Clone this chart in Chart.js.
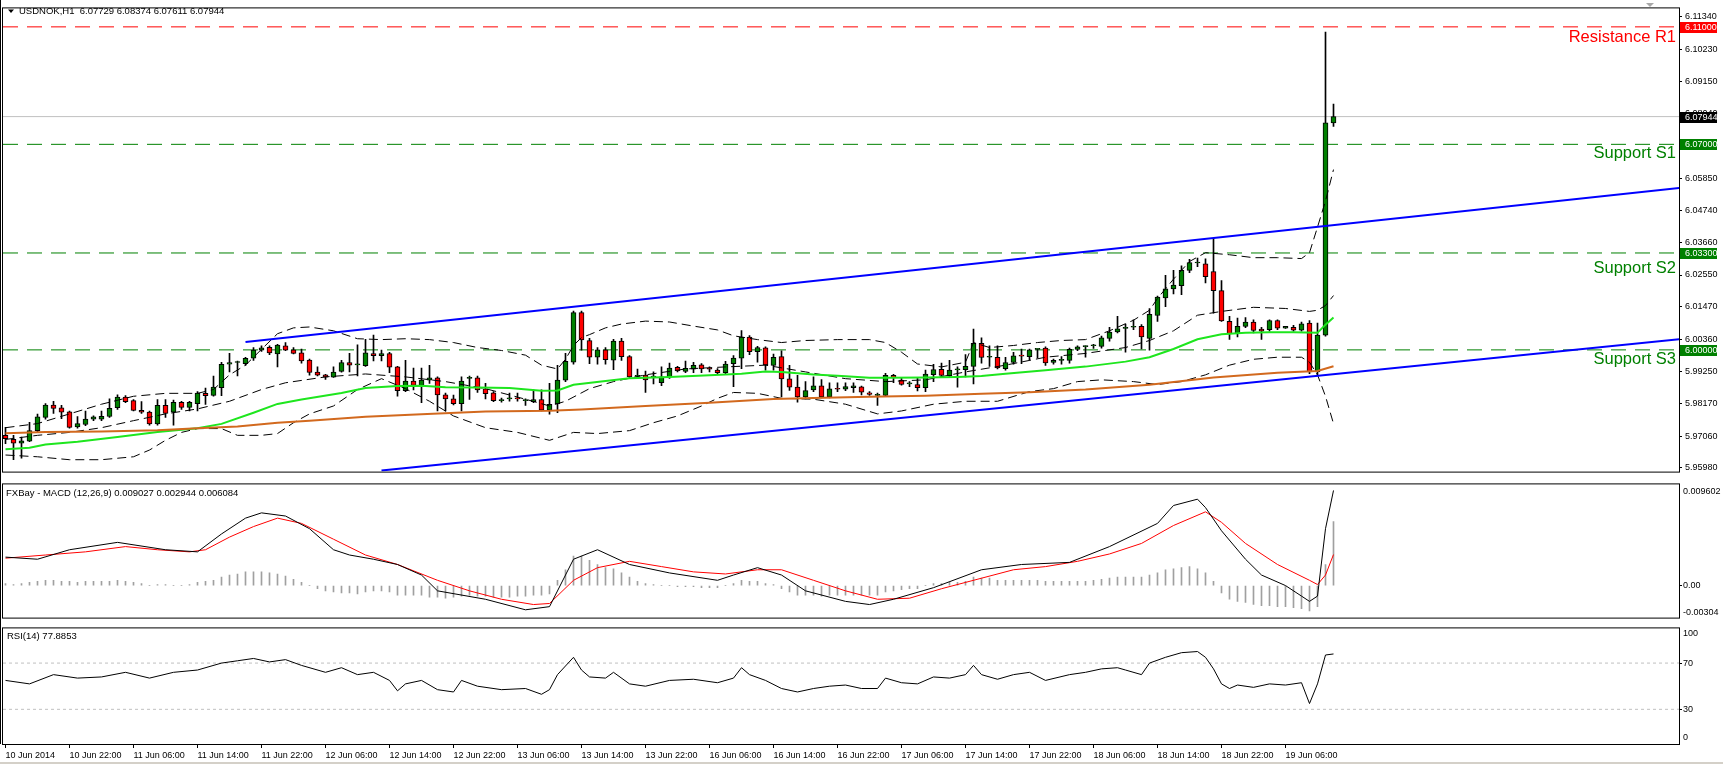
<!DOCTYPE html>
<html>
<head>
<meta charset="utf-8">
<script src="https://cdn.jsdelivr.net/npm/chart.js@4.4.1/dist/chart.umd.min.js"></script>
<style>
  html, body { margin: 0; padding: 0; background: #fff; }
  body { width: 1723px; height: 764px; position: relative; overflow: hidden; }
  canvas { position: absolute; left: 0; }
  #main { top: 0; }
  #macd { top: 478px; }
  #rsi { top: 622px; }
  #edge { position: absolute; left: 0; top: 762px; width: 1723px; height: 2px; background: #d4d0c8; }
</style>
</head>
<body>
<canvas id="main" width="1723" height="480"></canvas>
<canvas id="macd" width="1723" height="146"></canvas>
<canvas id="rsi" width="1723" height="142"></canvas>
<div id="edge"></div>
<script>
// USDNOK H1 candles, 10 Jun 14:00 .. 19 Jun 12:00
const open = [5.9709,5.9695,5.9682,5.9689,5.9725,5.9770,5.9812,5.9803,5.9789,5.9738,5.9746,5.9764,5.9764,5.9773,5.9803,5.9839,5.9827,5.9794,5.9788,5.9748,
  5.9811,5.9788,5.9821,5.9804,5.9817,5.9852,5.9845,5.9871,5.9951,5.9957,5.9953,5.9972,5.9999,6.0009,5.9986,6.0014,6.0000,5.9990,5.9965,5.9924,
  5.9915,5.9907,5.9927,5.9957,5.9949,5.9946,5.9987,5.9980,5.9987,5.9942,5.9861,5.9894,5.9879,5.9897,5.9905,5.9847,5.9833,5.9817,5.9903,5.9905,
  5.9867,5.9854,5.9827,5.9833,5.9834,5.9827,5.9824,5.9831,5.9795,5.9816,5.9897,5.9958,6.0127,6.0032,5.9975,6.0000,5.9965,6.0030,5.9977,5.9910,
  5.9914,5.9907,5.9888,5.9908,5.9941,5.9927,5.9934,5.9949,5.9935,5.9931,5.9922,5.9953,5.9972,6.0044,5.9994,6.0007,5.9947,5.9977,5.9901,5.9873,
  5.9840,5.9864,5.9878,5.9840,5.9867,5.9866,5.9871,5.9874,5.9854,5.9845,5.9845,5.9913,5.9897,5.9884,5.9882,5.9871,5.9916,5.9934,5.9912,5.9932,
  5.9933,5.9944,6.0022,5.9975,5.9975,5.9936,5.9957,5.9980,5.9977,6.0002,6.0006,5.9957,5.9964,5.9964,6.0002,6.0011,6.0014,6.0012,6.0039,6.0061,
  6.0073,6.0077,6.0080,6.0039,6.0117,6.0177,6.0208,6.0219,6.0271,6.0296,6.0293,6.0267,6.0202,6.0097,6.0055,6.0080,6.0095,6.0071,6.0069,6.0100,
  6.0074,6.0077,6.0067,6.0091,5.9925,6.0050,6.07729];
const high = [5.9736,5.9709,5.9703,5.9753,5.9781,5.9817,5.9825,5.9811,5.9792,5.9773,5.9792,5.9775,5.9792,5.9833,5.9847,5.9844,5.9831,5.9824,5.9792,5.9831,
  5.9831,5.9829,5.9825,5.9825,5.9858,5.9870,5.9911,5.9958,5.9988,5.9962,5.9975,6.0008,6.0014,6.0014,6.0019,6.0025,6.0008,6.0003,5.9969,5.9942,
  5.9917,5.9942,5.9964,5.9988,6.0017,6.0036,6.0050,5.9999,5.9992,5.9944,5.9964,5.9938,5.9938,5.9947,5.9908,5.9853,5.9846,5.9908,5.9911,5.9911,
  5.9886,5.9858,5.9836,5.9853,5.9853,5.9833,5.9864,5.9864,5.9886,5.9947,5.9988,6.0132,6.0132,6.0039,6.0008,6.0008,6.0036,6.0039,5.9981,5.9935,
  5.9928,5.9925,5.9942,5.9955,5.9944,5.9962,5.9958,5.9953,5.9942,5.9936,5.9961,5.9981,6.0066,6.0049,6.0012,6.0010,5.9986,5.9997,5.9947,5.9913,
  5.9892,5.9908,5.9899,5.9888,5.9888,5.9888,5.9888,5.9877,5.9858,5.9853,5.9920,5.9917,5.9905,5.9892,5.9903,5.9931,5.9951,5.9955,5.9964,5.9942,
  5.9984,6.0071,6.0041,6.0014,6.0014,5.9975,5.9992,6.0003,6.0003,6.0004,6.0010,5.9969,5.9977,6.0006,6.0014,6.0014,6.0019,6.0047,6.0077,6.0114,
  6.0088,6.0102,6.0086,6.0141,6.0183,6.0254,6.0271,6.0286,6.0308,6.0313,6.0310,6.0380,6.0236,6.0114,6.0108,6.0110,6.0102,6.0077,6.0102,6.0102,
  6.0080,6.0084,6.0095,6.0100,6.0091,6.1082,6.08374];
const low = [5.9681,5.9626,5.9631,5.9687,5.9720,5.9764,5.9784,5.9766,5.9733,5.9733,5.9742,5.9759,5.9759,5.9770,5.9797,5.9820,5.9792,5.9784,5.9744,5.9744,
  5.9770,5.9744,5.9797,5.9792,5.9792,5.9814,5.9842,5.9844,5.9925,5.9911,5.9947,5.9964,5.9995,5.9984,5.9942,5.9997,5.9986,5.9955,5.9914,5.9911,
  5.9899,5.9906,5.9924,5.9925,5.9911,5.9944,5.9962,5.9962,5.9922,5.9842,5.9858,5.9864,5.9820,5.9886,5.9792,5.9792,5.9813,5.9792,5.9831,5.9855,
  5.9833,5.9824,5.9822,5.9825,5.9825,5.9811,5.9820,5.9792,5.9781,5.9786,5.9892,5.9951,5.9999,5.9953,5.9951,5.9951,5.9933,5.9964,5.9906,5.9907,
  5.9855,5.9884,5.9878,5.9903,5.9925,5.9922,5.9922,5.9922,5.9925,5.9917,5.9919,5.9875,5.9936,5.9984,5.9958,5.9931,5.9931,5.9840,5.9862,5.9822,
  5.9833,5.9858,5.9836,5.9836,5.9858,5.9861,5.9855,5.9847,5.9845,5.9811,5.9842,5.9888,5.9880,5.9875,5.9860,5.9858,5.9892,5.9908,5.9906,5.9873,
  5.9908,5.9884,5.9955,5.9944,5.9935,5.9931,5.9951,5.9953,5.9966,5.9973,5.9947,5.9951,5.9951,5.9955,5.9997,5.9975,6.0005,6.0006,6.0030,6.0058,
  5.9992,6.0069,6.0003,5.9999,6.0097,6.0147,6.0191,6.0188,6.0263,6.0283,6.0228,6.0125,6.0097,6.0036,6.0044,6.0076,6.0058,6.0036,6.0064,6.0069,
  6.0073,6.0064,6.0064,5.9919,5.9914,6.0047,6.07611];
const close = [5.9698,5.9682,5.9690,5.9725,5.9772,5.9812,5.9801,5.9788,5.9736,5.9749,5.9764,5.9772,5.9774,5.9801,5.9839,5.9824,5.9794,5.9788,5.9748,5.9811,
  5.9784,5.9821,5.9804,5.9821,5.9853,5.9844,5.9873,5.9951,5.9957,5.9958,5.9971,5.9999,6.0007,5.9990,6.0016,5.9999,5.9988,5.9962,5.9923,5.9914,
  5.9907,5.9924,5.9957,5.9948,5.9950,5.9990,5.9980,5.9987,5.9941,5.9861,5.9894,5.9879,5.9897,5.9905,5.9847,5.9833,5.9817,5.9894,5.9905,5.9864,
  5.9851,5.9827,5.9829,5.9834,5.9833,5.9828,5.9831,5.9795,5.9815,5.9897,5.9961,6.0127,6.0034,5.9975,6.0000,5.9967,6.0030,5.9977,5.9908,5.9912,
  5.9898,5.9908,5.9908,5.9938,5.9928,5.9937,5.9947,5.9935,5.9934,5.9922,5.9952,5.9972,6.0044,5.9994,6.0008,5.9949,5.9975,5.9901,5.9873,5.9840,
  5.9861,5.9878,5.9840,5.9867,5.9866,5.9875,5.9878,5.9856,5.9848,5.9846,5.9913,5.9905,5.9882,5.9885,5.9871,5.9918,5.9933,5.9913,5.9931,5.9933,
  5.9944,6.0022,5.9974,5.9976,5.9939,5.9957,5.9980,5.9979,6.0000,6.0004,5.9956,5.9964,5.9965,6.0002,6.0010,6.0013,6.0015,6.0041,6.0061,6.0072,
  6.0077,6.0077,6.0044,6.0121,6.0180,6.0208,6.0221,6.0271,6.0297,6.0297,6.0249,6.0202,6.0099,6.0055,6.0080,6.0095,6.0066,6.0064,6.0100,6.0074,
  6.0080,6.0067,6.0089,5.9925,6.0050,6.0773,6.07944];

// indicator lines as [bar, value]
const maGreen = [[0,5.9662],[3,5.9667],[5,5.9678],[9,5.9687],[14,5.9703],[19,5.9720],[24,5.9733],[27,5.9748],[31,5.9786],[34,5.9816],[37,5.9831],[42,5.9853],
  [45,5.9870],[49,5.9877],[52,5.9878],[55,5.9873],[59,5.9872],[63,5.9870],[67,5.9861],[69,5.9862],[71,5.9881],[75,5.9894],[78,5.9903],[83,5.9908],[88,5.9914],
  [92,5.9919],[95,5.9926],[97,5.9925],[101,5.9916],[104,5.9912],[108,5.9905],[110,5.9905],[115,5.9906],[119,5.9908],[122,5.9911],[125,5.9919],[130,5.9931],
  [135,5.9943],[140,5.9960],[143,5.9975],[146,6.0003],[149,6.0036],[152,6.0053],[155,6.0058],[158,6.0060],[161,6.0060],[164,6.0058],[165,6.0086],[166,6.0110]];
const maOrange = [[0,5.9716],[5,5.9720],[12,5.9722],[19,5.9726],[24,5.9733],[29,5.9739],[34,5.9752],[38,5.9759],[45,5.9772],[52,5.9781],[60,5.9790],[68,5.9793],
  [72,5.9797],[80,5.9809],[88,5.9820],[96,5.9833],[101,5.9836],[108,5.9840],[115,5.9844],[122,5.9851],[128,5.9856],[135,5.9865],[143,5.9881],[151,5.9906],
  [159,5.9922],[164,5.9928],[166,5.9944]];
const bbUpper = [[0,5.9735],[4,5.9749],[8,5.9782],[12,5.9815],[16,5.9842],[20,5.9852],[24,5.9852],[26,5.9865],[28,5.9915],[30,5.9948],[32,6.0002],[34,6.0055],
  [36,6.0075],[38,6.0078],[41,6.0065],[44,6.0038],[47,6.0035],[50,6.0038],[53,6.0035],[56,6.0025],[59,6.0008],[62,5.9998],[65,5.9982],[67,5.9948],[69,5.9935],
  [70,5.9968],[71,6.0015],[72,6.0042],[73,6.0052],[75,6.0075],[77,6.0088],[80,6.0098],[83,6.0095],[86,6.0081],[89,6.0068],[91,6.0048],[94,6.0035],[97,6.0025],
  [100,6.0032],[104,6.0035],[108,6.0035],[110,6.0025],[112,5.9992],[114,5.9952],[117,5.9942],[120,5.9958],[121,6.0025],[123,6.0008],[126,6.0015],[129,6.0025],
  [132,6.0032],[135,6.0035],[138,6.0065],[141,6.0101],[143,6.0135],[144,6.0175],[146,6.0241],[148,6.0301],[150,6.0331],[153,6.0324],[156,6.0314],[159,6.0314],
  [162,6.0311],[163,6.0331],[164,6.0418],[165,6.0507],[166,6.0614]];
const bbMiddle = [[0,5.9695],[4,5.9709],[8,5.9719],[12,5.9735],[16,5.9759],[20,5.9782],[24,5.9799],[28,5.9825],[32,5.9865],[35,5.9888],[40,5.9908],[45,5.9918],
  [50,5.9908],[55,5.9892],[60,5.9868],[65,5.9832],[68,5.9809],[70,5.9825],[73,5.9868],[76,5.9892],[80,5.9915],[85,5.9935],[90,5.9942],[95,5.9948],[100,5.9925],
  [105,5.9902],[110,5.9892],[115,5.9898],[120,5.9925],[125,5.9948],[130,5.9975],[135,5.9988],[140,6.0008],[143,6.0032],[146,6.0065],[149,6.0118],[152,6.0131],
  [156,6.0145],[160,6.0141],[163,6.0131],[164,6.0135],[165,6.0151],[166,6.0185]];
const bbLower = [[0,5.9642],[4,5.9636],[8,5.9626],[12,5.9626],[16,5.9636],[18,5.9659],[20,5.9692],[22,5.9719],[24,5.9732],[27,5.9732],[29,5.9709],[32,5.9709],
  [34,5.9715],[36,5.9752],[38,5.9782],[41,5.9809],[44,5.9865],[47,5.9902],[50,5.9868],[53,5.9825],[56,5.9775],[60,5.9735],[64,5.9719],[68,5.9692],[71,5.9719],
  [74,5.9715],[78,5.9725],[81,5.9752],[84,5.9775],[87,5.9809],[89,5.9835],[91,5.9855],[94,5.9852],[97,5.9835],[101,5.9832],[105,5.9815],[109,5.9782],[112,5.9792],
  [116,5.9815],[120,5.9825],[124,5.9825],[128,5.9858],[131,5.9868],[134,5.9892],[137,5.9898],[141,5.9892],[144,5.9882],[147,5.9892],[150,5.9915],[153,5.9948],
  [156,5.9968],[159,5.9975],[162,5.9975],[163,5.9958],[164,5.9915],[165,5.9842],[166,5.9749]];
const trendUpper = [[30,6.0027],[209.2,6.0551]];
const trendLower = [[47,5.9589],[209.2,6.0036]];
const levels = [6.11, 6.07, 6.033, 6.0];
const levelNames = ['Resistance R1', 'Support S1', 'Support S2', 'Support S3'];
const lastPrice = 6.07944;
const priceTicks = [6.1134,6.1023,6.0915,6.0804,6.0696,6.0585,6.0474,6.0366,6.0255,6.0147,6.0036,5.9925,5.9817,5.9706,5.9598];

const macdHist = [0.0002,0.0001,0.0002,0.0003,0.0004,
  0.0005,0.0005,0.0004,0.0004,0.0003,0.0004,0.0004,0.0004,0.0004,0.0005,0.0004,0.0003,
  0.0002,0.0000,0.0001,0.0001,0.0000,0.0000,0.0001,0.0003,0.0004,0.0005,
  0.0008,0.0010,0.0011,0.0013,0.0013,0.0013,0.0012,0.0011,
  0.0009,0.0006,0.0003,0.0000,-0.0003,-0.0005,
  -0.0006,-0.0007,-0.0007,-0.0008,-0.0006,-0.0005,-0.0005,-0.0006,-0.0009,-0.0009,-0.0009,-0.0009,-0.0011,-0.0011,-0.0012,-0.0011,-0.0010,
  -0.0009,-0.0010,-0.0010,-0.0011,-0.0011,-0.0011,-0.0010,-0.0010,-0.0009,-0.0009,-0.0008,
  0.0005,0.0015,0.0028,0.0028,
  0.0024,0.0020,0.0017,0.0016,0.0012,0.0008,0.0004,
  0.0002,0.0001,0.0000,0.0000,-0.0001,-0.0001,-0.0001,-0.0002,-0.0002,
  -0.0002,0.0000,0.0002,0.0005,0.0004,0.0004,0.0002,
  0.0001,-0.0003,-0.0006,-0.0009,-0.0009,
  -0.0009,-0.0010,-0.0009,-0.0009,-0.0009,-0.0009,-0.0009,-0.0009,-0.0009,-0.0006,
  -0.0005,-0.0004,-0.0003,-0.0003,0.0000,
  0.0002,0.0002,0.0003,0.0003,0.0004,0.0008,0.0007,0.0007,0.0005,0.0005,0.0005,0.0005,0.0005,0.0005,0.0004,0.0004,0.0004,0.0004,0.0004,0.0004,0.0005,
  0.0006,0.0007,0.0008,0.0008,0.0008,0.0008,0.0010,0.0012,0.0015,0.0016,0.0017,0.0018,0.0016,0.0012,
  0.0004,-0.0007,-0.0013,-0.0015,-0.0016,-0.0018,-0.0019,-0.0019,-0.0020,-0.0020,-0.0021,-0.0022,-0.0024,-0.0020,0.0020,0.006084];
const macdMain = [[0,0.0027],[4,0.0025],[8,0.0034],[14,0.0041],[20,0.0034],[24,0.0032],[27,0.0049],[30,0.0064],[32,0.0069],[35,0.0066],[38,0.0054],[41,0.0034],
  [43,0.0029],[46,0.0025],[49,0.0020],[52,0.0010],[54,-0.0005],[60,-0.0013],[65,-0.0023],[68,-0.0020],[71,0.0025],[74,0.0034],[78,0.0020],[83,0.0012],[89,0.0005],
  [91,0.0010],[94,0.0017],[97,0.0010],[100,-0.0005],[105,-0.0015],[108,-0.0018],[111,-0.0013],[116,-0.0002],[122,0.0015],[127,0.0020],[133,0.0022],[138,0.0037],
  [144,0.0059],[146,0.0076],[149,0.0082],[150,0.0074],[152,0.0052],[155,0.0025],[157,0.0010],[160,0.0000],[162,-0.0010],[163,-0.0015],[164,-0.0010],[165,0.0054],
  [166,0.009027]];
const macdSignal = [[0,0.0026],[5,0.0029],[10,0.0032],[15,0.0037],[19,0.0034],[23,0.0032],[25,0.0034],[28,0.0046],[31,0.0056],[34,0.0064],[37,0.0059],[41,0.0044],
  [45,0.0029],[49,0.0020],[54,0.0005],[58,-0.0005],[62,-0.0013],[66,-0.0018],[68,-0.0017],[71,0.0005],[74,0.0017],[78,0.0023],[82,0.0018],[86,0.0013],[90,0.0011],
  [94,0.0015],[97,0.0015],[101,0.0005],[105,-0.0005],[109,-0.0013],[113,-0.0012],[117,-0.0003],[122,0.0007],[126,0.0015],[130,0.0018],[134,0.0023],[138,0.0030],
  [142,0.0040],[146,0.0057],[150,0.0070],[152,0.0060],[155,0.0040],[159,0.0020],[163,0.0005],[164,0.0001],[165,0.0010],[166,0.002944]];
const rsi = [[0,55],[3,52],[6,60],[9,57],[12,58],[15,62],[18,57],[21,62],[24,64],[27,70],[29,72],[31,74],[33,71],[35,73],[37,68],[40,62],[42,66],[44,60],[46,62],
  [48,55],[49,46],[50,52],[52,55],[54,47],[56,45],[57,55],[59,50],[62,47],[65,48],[67,43],[68,47],[69,60],[71,75],[72,64],[73,58],[75,57],[76,62],[78,52],[80,50],
  [83,55],[86,56],[89,53],[91,57],[92,66],[93,60],[95,55],[97,48],[99,45],[101,48],[103,50],[105,51],[107,48],[109,48],[110,57],[112,53],[114,52],[116,58],
  [118,57],[120,60],[121,68],[122,60],[124,56],[126,60],[128,62],[130,55],[133,60],[135,62],[137,65],[139,66],[140,64],[142,60],[143,70],[145,75],[147,79],
  [149,80],[150,75],[151,65],[152,52],[153,48],[154,51],[156,49],[158,52],[160,51],[162,53],[163,35],[164,52],[165,77],[166,77.8853]];
const rsiLevels = [70, 30];

const timeLabels = ['10 Jun 2014','10 Jun 22:00','11 Jun 06:00','11 Jun 14:00','11 Jun 22:00','12 Jun 06:00','12 Jun 14:00','12 Jun 22:00',
  '13 Jun 06:00','13 Jun 14:00','13 Jun 22:00','16 Jun 06:00','16 Jun 14:00','16 Jun 22:00','17 Jun 06:00','17 Jun 14:00','17 Jun 22:00',
  '18 Jun 06:00','18 Jun 14:00','18 Jun 22:00','19 Jun 06:00'];

// ---- layout / style ----
const X_MIN = -0.3125, X_MAX = 209.1875;
const FONT = 'Liberation Sans, Arial, sans-serif';
const UP = '#008000', DOWN = '#ff0000';
Chart.defaults.font.family = FONT;
Chart.defaults.font.size = 9;
Chart.defaults.color = '#000';

const pts = arr => arr.map(([x, y]) => ({x, y}));
const hline = v => [{x: X_MIN, y: v}, {x: X_MAX, y: v}];
const lineDs = (data, color, width, dash, order) => ({
  type: 'line', data, borderColor: color, borderWidth: width, borderDash: dash || [],
  pointRadius: 0, tension: 0, fill: false, order
});
const xHidden = {type: 'linear', min: X_MIN, max: X_MAX, offset: false, display: false};
const yRight = (min, max, ticks, fmt, pad) => ({
  position: 'right', min, max,
  afterFit: s => { s.width = 44; },
  afterBuildTicks: s => { s.ticks = ticks.map(v => ({value: v})); },
  grid: {drawOnChartArea: false, drawTicks: true, tickLength: 3, color: '#000'},
  border: {display: false},
  ticks: {padding: pad, callback: fmt, font: {size: 9, family: FONT}}
});

function frame(ctx, a) {
  ctx.strokeStyle = '#000';
  ctx.lineWidth = 1;
  ctx.strokeRect(a.left - 0.5, a.top - 0.5, a.right - a.left + 1, a.bottom - a.top + 1);
}

const idx = close.map((_, i) => i);

// ---- main price chart ----
const mainDecor = {
  id: 'mainDecor',
  afterDraw(chart) {
    const {ctx, chartArea: a, scales: {y}} = chart;
    ctx.save();
    frame(ctx, a);
    ctx.beginPath(); ctx.moveTo(0.5, 0); ctx.lineTo(0.5, chart.height); ctx.stroke();
    // header
    ctx.fillStyle = '#000';
    ctx.beginPath(); ctx.moveTo(8, 9.5); ctx.lineTo(14, 9.5); ctx.lineTo(11, 13); ctx.closePath(); ctx.fill();
    ctx.font = '9.5px ' + FONT;
    ctx.textBaseline = 'middle';
    ctx.textAlign = 'left';
    ctx.fillText('USDNOK,H1  6.07729 6.08374 6.07611 6.07944', 19, 11.5);
    // shift marker
    ctx.fillStyle = '#a8a8a8';
    ctx.beginPath(); ctx.moveTo(1646, 3); ctx.lineTo(1654, 3); ctx.lineTo(1650, 7); ctx.closePath(); ctx.fill();
    // level captions
    const offs = [15.6, 13.5, 20, 14];
    ctx.font = '16.5px ' + FONT;
    ctx.textAlign = 'right';
    ctx.textBaseline = 'alphabetic';
    levels.forEach((v, k) => {
      ctx.fillStyle = k === 0 ? DOWN : UP;
      ctx.fillText(levelNames[k], 1676, y.getPixelForValue(v) + offs[k]);
    });
    // price tags on the axis
    const tags = levels.map((v, k) => [v, k === 0 ? '#ff0000' : '#008000']).concat([[lastPrice, '#000']]);
    ctx.font = '9px ' + FONT;
    ctx.textAlign = 'left';
    ctx.textBaseline = 'middle';
    tags.forEach(([v, c]) => {
      const py = Math.round(y.getPixelForValue(v));
      ctx.fillStyle = c;
      ctx.fillRect(a.right + 1, py - 5, 37, 11);
      ctx.fillStyle = '#fff';
      ctx.fillText(v.toFixed(5), a.right + 6, py + 0.5);
    });
    ctx.restore();
  }
};

new Chart(document.getElementById('main'), {
  type: 'bar',
  data: {
    datasets: [
      {type: 'bar', data: idx.map(i => ({x: i, y: [low[i], high[i]]})), backgroundColor: '#000',
        barThickness: 1, grouped: false, order: 20},
      {type: 'bar', data: idx.map(i => ({x: i, y: [open[i], close[i]]})),
        backgroundColor: idx.map(i => close[i] >= open[i] ? UP : DOWN),
        borderColor: '#000', borderWidth: 1, borderSkipped: false, barThickness: 5, minBarLength: 1,
        grouped: false, order: 19},
      lineDs(hline(lastPrice), '#c0c0c0', 1, [], 30),
      ...levels.map((v, k) => lineDs(hline(v), k === 0 ? '#ff0000' : '#008000', 1, [15, 9], 30)),
      lineDs(pts(bbUpper), '#000', 1, [9, 5], 5),
      lineDs(pts(bbMiddle), '#000', 1, [9, 5], 5),
      lineDs(pts(bbLower), '#000', 1, [9, 5], 5),
      lineDs(pts(maOrange), '#d2691e', 2, [], 4),
      lineDs(pts(maGreen), '#1ee61e', 2, [], 4),
      lineDs(pts(trendUpper), '#0000ff', 2, [], 3),
      lineDs(pts(trendLower), '#0000ff', 2, [], 3)
    ]
  },
  options: {
    responsive: false, animation: false, events: [],
    layout: {padding: {left: 3, right: 0, top: 3, bottom: 3}},
    plugins: {legend: {display: false}, tooltip: {enabled: false}},
    scales: {
      x: xHidden,
      y: yRight(5.95855, 6.11629, priceTicks, v => v.toFixed(5), 3)
    }
  },
  plugins: [mainDecor]
});

// ---- MACD ----
const MACD_MIN = -0.00304, MACD_MAX = 0.009602;
const macdDecor = {
  id: 'macdDecor',
  afterDraw(chart) {
    const {ctx, chartArea: a, scales: {y}} = chart;
    ctx.save();
    frame(ctx, a);
    ctx.beginPath(); ctx.moveTo(0.5, 0); ctx.lineTo(0.5, chart.height); ctx.stroke();
    ctx.fillStyle = '#000';
    ctx.font = '9.5px ' + FONT;
    ctx.textBaseline = 'middle';
    ctx.textAlign = 'left';
    ctx.fillText('FXBay - MACD (12,26,9) 0.009027 0.002944 0.006084', 6, a.top + 9);
    ctx.font = '9px ' + FONT;
    ctx.fillText(MACD_MAX.toString(), a.right + 4, y.getPixelForValue(MACD_MAX) + 7);
    ctx.fillText(MACD_MIN.toString(), a.right + 4, y.getPixelForValue(MACD_MIN) - 5);
    ctx.restore();
  }
};

new Chart(document.getElementById('macd'), {
  type: 'bar',
  data: {
    datasets: [
      {type: 'bar', data: idx.map(i => ({x: i, y: macdHist[i]})), backgroundColor: '#a0a0a0',
        barThickness: 1, grouped: false, order: 10},
      lineDs(pts(macdSignal), '#ff0000', 1, [], 2),
      lineDs(pts(macdMain), '#000', 1, [], 1)
    ]
  },
  options: {
    responsive: false, animation: false, events: [],
    layout: {padding: {left: 3, right: 0, top: 3, bottom: 3}},
    plugins: {legend: {display: false}, tooltip: {enabled: false}},
    scales: {
      x: xHidden,
      y: yRight(MACD_MIN, MACD_MAX, [0], () => '0.00', 1)
    }
  },
  plugins: [macdDecor]
});

// ---- RSI ----
const rsiDecor = {
  id: 'rsiDecor',
  afterDraw(chart) {
    const {ctx, chartArea: a, scales: {y}} = chart;
    ctx.save();
    frame(ctx, a);
    ctx.beginPath(); ctx.moveTo(0.5, 0); ctx.lineTo(0.5, a.bottom); ctx.stroke();
    ctx.fillStyle = '#000';
    ctx.font = '9.5px ' + FONT;
    ctx.textBaseline = 'middle';
    ctx.textAlign = 'left';
    ctx.fillText('RSI(14) 77.8853', 7, a.top + 8);
    ctx.font = '9px ' + FONT;
    ctx.fillText('100', a.right + 4, y.getPixelForValue(100) + 5);
    ctx.fillText('0', a.right + 4, y.getPixelForValue(0) - 6);
    ctx.restore();
  }
};

new Chart(document.getElementById('rsi'), {
  type: 'line',
  data: {
    datasets: [
      ...rsiLevels.map(v => lineDs(hline(v), '#c0c0c0', 1, [3, 3], 5)),
      lineDs(pts(rsi), '#000', 1, [], 1)
    ]
  },
  options: {
    responsive: false, animation: false, events: [],
    layout: {padding: {left: 3, right: 0, top: 4.5, bottom: 0}},
    plugins: {legend: {display: false}, tooltip: {enabled: false}},
    scales: {
      x: {
        type: 'linear', min: X_MIN, max: X_MAX, offset: false, position: 'bottom',
        afterFit: s => { s.height = 20; },
        afterBuildTicks: s => { s.ticks = timeLabels.map((_, k) => ({value: k * 8})); },
        grid: {drawOnChartArea: false, drawTicks: true, tickLength: 4, color: '#000'},
        border: {display: false},
        ticks: {align: 'start', padding: 2, autoSkip: false, maxRotation: 0,
          callback: (v, k) => timeLabels[k], font: {size: 9, family: FONT}}
      },
      y: yRight(0, 100, rsiLevels, v => String(v), 1)
    }
  },
  plugins: [rsiDecor]
});
</script>
</body>
</html>
